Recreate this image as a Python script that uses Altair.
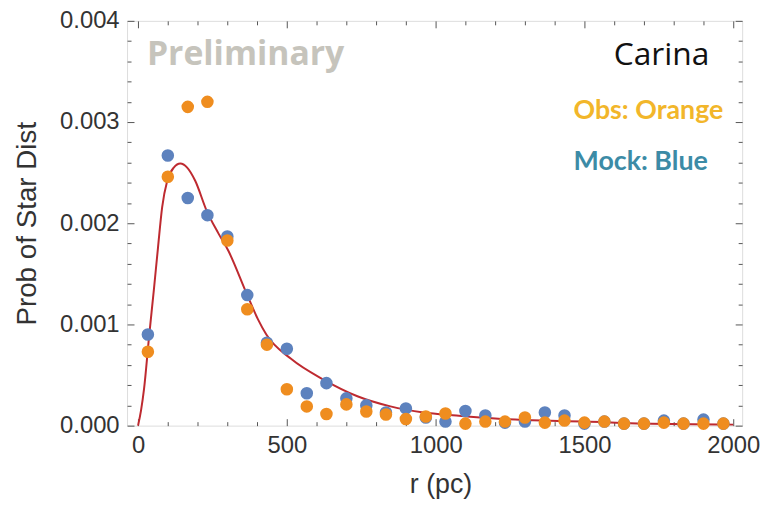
import altair as alt
import pandas as pd

# ---- data ----
r_bins = [33, 100, 167, 233, 300, 367, 433, 500, 567, 633, 700, 767, 833, 900, 967,
          1033, 1100, 1167, 1233, 1300, 1367, 1433, 1500, 1567, 1633, 1700, 1767, 1833, 1900, 1967]
mock = [0.00090, 0.00267, 0.00225, 0.00208, 0.00187, 0.00129, 0.00082, 0.00076, 0.00032, 0.00042,
        0.00027, 0.00020, 0.00013, 0.00017, 0.00008, 0.00004, 0.000145, 0.00010, 0.00003, 0.00004,
        0.00013, 0.00010, 0.00002, 0.00004, 0.00002, 0.00002, 0.00005, 0.00002, 0.00006, 0.00002]
obs = [0.00073, 0.00246, 0.00315, 0.00320, 0.00183, 0.00115, 0.00080, 0.00036, 0.00019, 0.000115,
       0.00021, 0.00014, 0.00011, 0.000066, 0.00009, 0.00012, 0.00002, 0.00004, 0.00004, 0.00008,
       0.00003, 0.00005, 0.00003, 0.00004, 0.00002, 0.00002, 0.00003, 0.00002, 0.00002, 0.00002]

fit_r = [0, 10, 20, 37, 53, 67, 81, 98, 120, 142, 165, 192, 231, 270, 303, 364, 403, 431,
         514, 626, 737, 848, 959, 1070, 1200, 1360, 1500, 1700, 2000]
fit_p = [0.0, 0.00015, 0.00036, 0.00088, 0.00134, 0.00176, 0.00216, 0.00242, 0.00255, 0.00259,
         0.00255, 0.00242, 0.00212, 0.00190, 0.00173, 0.00131, 0.00105, 0.00090, 0.00066,
         0.00045, 0.00029, 0.00019, 0.00013, 0.00010, 0.00007, 0.00005, 0.00004, 0.00002, 0.00001]

x_major = [0, 500, 1000, 1500, 2000]
x_minor = [100, 200, 300, 400, 600, 700, 800, 900, 1100, 1200, 1300, 1400,
           1600, 1700, 1800, 1900]
y_major = [0.0, 0.001, 0.002, 0.003, 0.004]
y_minor = [0.0002, 0.0004, 0.0006, 0.0008, 0.0012, 0.0014, 0.0016, 0.0018,
           0.0022, 0.0024, 0.0026, 0.0028, 0.0032, 0.0034, 0.0036, 0.0038]

pts = pd.DataFrame({"r": r_bins, "mock": mock, "obs": obs})
fit = pd.DataFrame({"r": fit_r, "p": fit_p})

BLUE = "#5D82BE"
ORANGE = "#EF8D1F"
FRAME = "#555555"

xs = alt.Scale(domain=[-37, 2030], nice=False, zero=False)
ys = alt.Scale(domain=[0, 0.004], nice=False, zero=False)


def tick_axis(orient, vals, size):
    return alt.Axis(orient=orient, values=vals, labels=False, domain=False, grid=False,
                    ticks=True, tickSize=size, offset=-size, tickColor=FRAME,
                    tickWidth=1, title=None)


def tick_layer(xo, yo, xv, yv, size):
    return alt.Chart(fit).mark_point(opacity=0).encode(
        x=alt.X("r:Q", scale=xs, axis=tick_axis(xo, xv, size)),
        y=alt.Y("p:Q", scale=ys, axis=tick_axis(yo, yv, size)),
    )


curve = alt.Chart(fit).mark_line(color="#BE2A30", strokeWidth=2, interpolate="monotone").encode(
    x=alt.X("r:Q", scale=xs, title="r (pc)",
            axis=alt.Axis(orient="bottom", values=x_major, format="d", ticks=False, domain=False,
                          grid=False, labelFont="Liberation Sans", labelFontSize=24,
                          labelColor="#333333", labelPadding=8, titleFont="Liberation Sans",
                          titleFontSize=27, titleFontWeight="normal", titleColor="#333333",
                          titlePadding=14, titleX=316)),
    y=alt.Y("p:Q", scale=ys, title="Prob of Star Dist",
            axis=alt.Axis(orient="left", values=y_major, format=".3f", ticks=False, domain=False,
                          grid=False, labelFont="Liberation Sans", labelFontSize=24,
                          labelColor="#333333", labelPadding=8, titleFont="Liberation Sans",
                          titleFontSize=28, titleFontWeight="normal", titleColor="#333333",
                          titlePadding=18)),
)

blue_pts = alt.Chart(pts).mark_circle(size=160, opacity=1, color=BLUE).encode(
    x=alt.X("r:Q", scale=xs, axis=None), y=alt.Y("mock:Q", scale=ys, axis=None))
orange_pts = alt.Chart(pts).mark_circle(size=160, opacity=1, color=ORANGE).encode(
    x=alt.X("r:Q", scale=xs, axis=None), y=alt.Y("obs:Q", scale=ys, axis=None))

notes = [
    ("Preliminary", 20, 44, "left", "bold", 34, "#C6C4BC", "Open Sans"),
    ("Carina", 587, 44, "right", "normal", 32, "#111111", "Open Sans"),
    ("Obs: Orange", 450, 99, "left", "bold", 27, "#F2B62A", "Lato"),
    ("Mock: Blue", 450, 150, "left", "bold", 27, "#3C8BA6", "Lato"),
]
note_layers = [
    alt.Chart(fit).transform_filter("datum.r == 0").mark_text(
        text=t, align=a, baseline="alphabetic", font=f,
        fontWeight=w, fontSize=s, color=c).encode(x=alt.value(x), y=alt.value(y))
    for (t, x, y, a, w, s, c, f) in notes
]

chart = alt.layer(
    curve,
    tick_layer("bottom", "left", x_major, y_major, 7),
    tick_layer("bottom", "left", x_minor, y_minor, 4),
    tick_layer("top", "right", x_major, y_major, 7),
    tick_layer("top", "right", x_minor, y_minor, 4),
    blue_pts,
    orange_pts,
    *note_layers,
).resolve_axis(x="independent", y="independent").properties(
    width=620, height=408,
    autosize=alt.AutoSizeParams(type="none"),
    padding={"left": 120, "top": 11, "right": 20, "bottom": 74},
).configure_view(stroke=FRAME, strokeWidth=1.2).configure(background="white")

chart.save("out.html", embed_options={"renderer": "svg", "actions": False})
